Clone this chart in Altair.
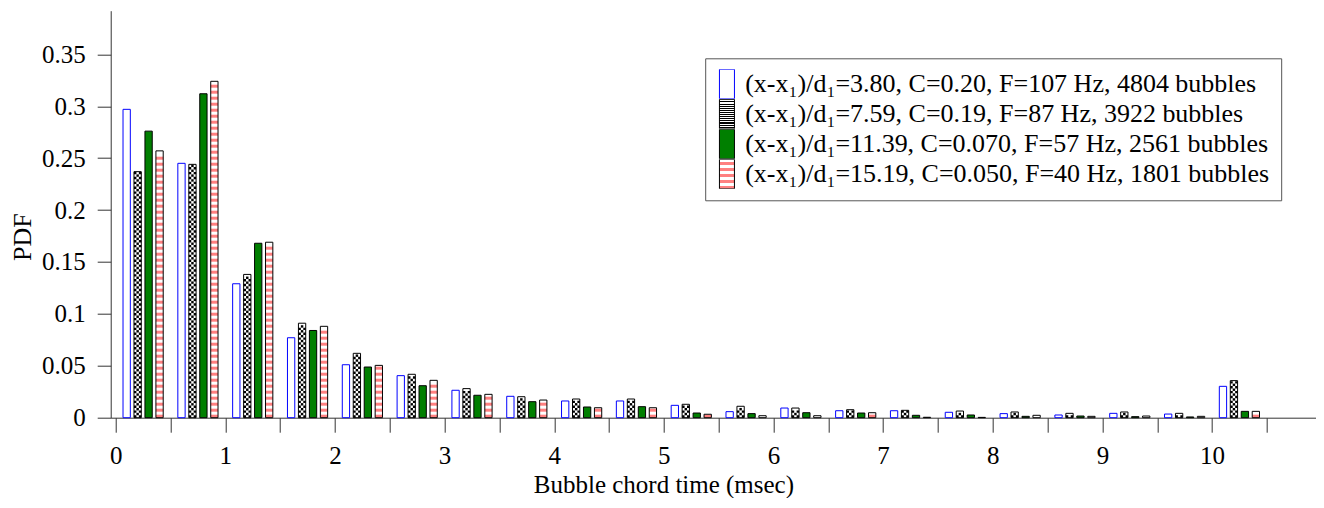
import json
import altair as alt
import pandas as pd

# ---------------- data ----------------
bin_start = [0.0, 0.5, 1.0, 1.5, 2.0, 2.5, 3.0, 3.5, 4.0, 4.5, 5.0,
             5.5, 6.0, 6.5, 7.0, 7.5, 8.0, 8.5, 9.0, 9.5, 10.0]

labels = [
    "(x-x\u2081)/d\u2081=3.80, C=0.20, F=107 Hz, 4804 bubbles",
    "(x-x\u2081)/d\u2081=7.59, C=0.19, F=87 Hz, 3922 bubbles",
    "(x-x\u2081)/d\u2081=11.39, C=0.070, F=57 Hz, 2561 bubbles",
    "(x-x\u2081)/d\u2081=15.19, C=0.050, F=40 Hz, 1801 bubbles",
]

pdf_380 = [0.297, 0.245, 0.129, 0.077, 0.051, 0.0405, 0.0264, 0.0206, 0.0161, 0.0161, 0.0119,
           0.0058, 0.0093, 0.0067, 0.0067, 0.0052, 0.0039, 0.0026, 0.0042, 0.0035, 0.0302]
pdf_759 = [0.237, 0.244, 0.138, 0.091, 0.062, 0.0418, 0.028, 0.0202, 0.018, 0.018, 0.0129,
           0.011, 0.0093, 0.0077, 0.0071, 0.0064, 0.0055, 0.0042, 0.0055, 0.0042, 0.0357]
pdf_1139 = [0.276, 0.312, 0.168, 0.084, 0.0488, 0.0308, 0.0216, 0.0154, 0.0103, 0.0106, 0.0045,
            0.0039, 0.0048, 0.0045, 0.0023, 0.0026, 0.0013, 0.0016, 0.001, 0.0007, 0.0061]
pdf_1519 = [0.257, 0.324, 0.169, 0.088, 0.0504, 0.036, 0.0225, 0.017, 0.0096, 0.0096, 0.0033,
            0.0019, 0.0019, 0.0048, 0.0004, 0.0003, 0.0023, 0.0013, 0.0016, 0.0013, 0.0061]

series_values = [pdf_380, pdf_759, pdf_1139, pdf_1519]

x_ticks = [0.0, 0.5, 1.0, 1.5, 2.0, 2.5, 3.0, 3.5, 4.0, 4.5, 5.0, 5.5,
           6.0, 6.5, 7.0, 7.5, 8.0, 8.5, 9.0, 9.5, 10.0, 10.5]
y_ticks = [0, 0.05, 0.1, 0.15, 0.2, 0.25, 0.3, 0.35]

# ---------------- layout / style ----------------
W, H = 1205.0, 407.0
X_MAX, Y_MAX = 10.9, 0.392
PXY = H / Y_MAX
BAR_W = 7.3
CELL = BAR_W / 3.0             # checker cell (px)
STRIPE_P, STRIPE_T = 6.0, 3.0  # stripe period / thickness (px)
FONT = "Liberation Serif"
PINK = "#ff8080"
GREEN = "#007f00"
fill_colors = ["white", "white", GREEN, "white"]
stroke_colors = ["#0000ff", "black", "black", "black"]

rows = []
for i, (lab, vals) in enumerate(zip(labels, series_values)):
    for b, v in zip(bin_start, vals):
        rows.append({"series": lab, "idx": i, "bin": b, "value": v})
df = pd.DataFrame(rows)

# pattern overlays derived from the bar values
chk = []
c = CELL / PXY
for b, v in zip(bin_start, pdf_759):
    r = 0
    while (r + 1) * c <= v:
        chk.append({"xc": b + 0.2, "y": (r + 0.5) * c, "odd": r % 2})
        r += 1
chk_df = pd.DataFrame(chk)

stp = []
p, t = STRIPE_P / PXY, STRIPE_T / PXY
for b, v in zip(bin_start, pdf_1519):
    k = 0
    while k * p + t <= v:
        stp.append({"xc": b + 0.4, "y": k * p + t / 2})
        k += 1
stp_df = pd.DataFrame(stp)

xs = alt.Scale(domain=[0, X_MAX], nice=False, zero=False)
ys = alt.Scale(domain=[0, Y_MAX], nice=False)

x_axis = alt.Axis(
    values=x_ticks,
    labelExpr="datum.value % 1 === 0 ? format(datum.value, 'd') : ''",
    tickSize=14.5, tickColor="#333", domainColor="#333", grid=False,
    labelFont=FONT, labelFontSize=25, labelColor="black", labelPadding=11,
    labelOverlap=False, labelFlush=False,
    title="Bubble chord time (msec)", titleFont=FONT, titleFontSize=25,
    titleFontWeight="normal", titleColor="black",
    titleX=5 * W / X_MAX, titleY=75, titleAlign="center", titleBaseline="alphabetic",
)
y_axis = alt.Axis(
    values=y_ticks, format="~g",
    tickSize=13.5, tickColor="#333", domainColor="#333", grid=False,
    labelFont=FONT, labelFontSize=25, labelColor="black", labelPadding=12,
    title="PDF", titleFont=FONT, titleFontSize=26, titleFontWeight="normal",
    titleColor="black", titleX=-88, titleY=226, titleAngle=-90,
    titleAlign="center", titleBaseline="middle",
)

base = alt.Chart(df).transform_calculate(
    xc="datum.bin + 0.1 * (datum.idx + 1)",
    fc=f"{json.dumps(fill_colors)}[datum.idx]",
    sc=f"{json.dumps(stroke_colors)}[datum.idx]",
)

fill_layer = base.mark_bar(width=BAR_W, strokeWidth=0).encode(
    x=alt.X("xc:Q", scale=xs, axis=x_axis),
    y=alt.Y("value:Q", scale=ys, axis=y_axis),
    fill=alt.Fill("fc:N", scale=None),
)


def chk_layer(odd):
    return alt.Chart(chk_df).transform_filter(f"datum.odd == {odd}").mark_rule(
        xOffset=-BAR_W / 2, x2Offset=BAR_W / 2, strokeWidth=CELL,
        strokeDash=[CELL, CELL], strokeDashOffset=CELL * odd, color="black",
    ).encode(
        x=alt.X("xc:Q", scale=xs, axis=x_axis), x2="xc:Q",
        y=alt.Y("y:Q", scale=ys, axis=y_axis),
    )


stripe_layer = alt.Chart(stp_df).mark_rule(
    xOffset=-BAR_W / 2, x2Offset=BAR_W / 2, strokeWidth=STRIPE_T, color=PINK,
).encode(
    x=alt.X("xc:Q", scale=xs, axis=x_axis), x2="xc:Q",
    y=alt.Y("y:Q", scale=ys, axis=y_axis),
)

outline_layer = base.mark_bar(width=BAR_W, fillOpacity=0, strokeWidth=1).encode(
    x=alt.X("xc:Q", scale=xs, axis=x_axis),
    y=alt.Y("value:Q", scale=ys, axis=y_axis),
    stroke=alt.Stroke("sc:N", scale=None),
)

# legend: symbol fills are gradients imitating the hatch patterns
stripe_stops = []
for j in range(5):
    a = j * 0.2
    stripe_stops += [{"offset": a, "color": "white"}, {"offset": a + 0.1, "color": "white"},
                     {"offset": a + 0.1, "color": PINK}, {"offset": a + 0.2, "color": PINK}]
chk_stops = []
n = 14
for j in range(n):
    a = j / n
    h = 0.5 / n
    chk_stops += [{"offset": a, "color": "black"}, {"offset": a + h, "color": "black"},
                  {"offset": a + h, "color": "white"}, {"offset": a + 2 * h, "color": "white"}]
grad_red = json.dumps({"gradient": "linear", "x1": 0, "y1": 0, "x2": 0, "y2": 1, "stops": stripe_stops})
grad_chk = json.dumps({"gradient": "linear", "x1": 0, "y1": 0, "x2": 0, "y2": 1, "stops": chk_stops})

first_label = json.dumps(labels[0], ensure_ascii=False)
legend = alt.Legend(
    title=None, orient="none", legendX=594.5, legendY=47.6,
    symbolType="M-1.3,-1.967h2v3.934h-2Z", symbolSize=225, symbolStrokeWidth=1,
    symbolStrokeColor={"expr": f"datum.value === {first_label} ? '#0000ff' : 'black'"},
    clipHeight=29.5, rowPadding=0,
    labelFont=FONT, labelFontSize=26, labelColor="black",
    labelOffset=3, labelLimit=1000, padding=11,
    strokeColor="#555", fillColor="white",
)

legend_layer = alt.Chart(df).transform_filter("false").mark_bar(width=BAR_W).encode(
    x=alt.X("bin:Q", scale=xs, axis=x_axis),
    y=alt.Y("value:Q", scale=ys, axis=y_axis),
    fill=alt.Fill(
        "series:N",
        scale=alt.Scale(domain=labels, range=["white", {"expr": grad_chk}, GREEN, {"expr": grad_red}]),
        legend=legend,
    ),
)

chart = alt.layer(
    fill_layer, chk_layer(0), chk_layer(1), stripe_layer, outline_layer, legend_layer
).properties(
    width=W, height=H,
    padding={"left": 102.7, "top": 2.7, "right": 0, "bottom": 80},
    autosize=alt.AutoSizeParams(type="none"),
).configure_view(stroke=None)

chart.save("out.html", embed_options={"renderer": "svg", "actions": False})
